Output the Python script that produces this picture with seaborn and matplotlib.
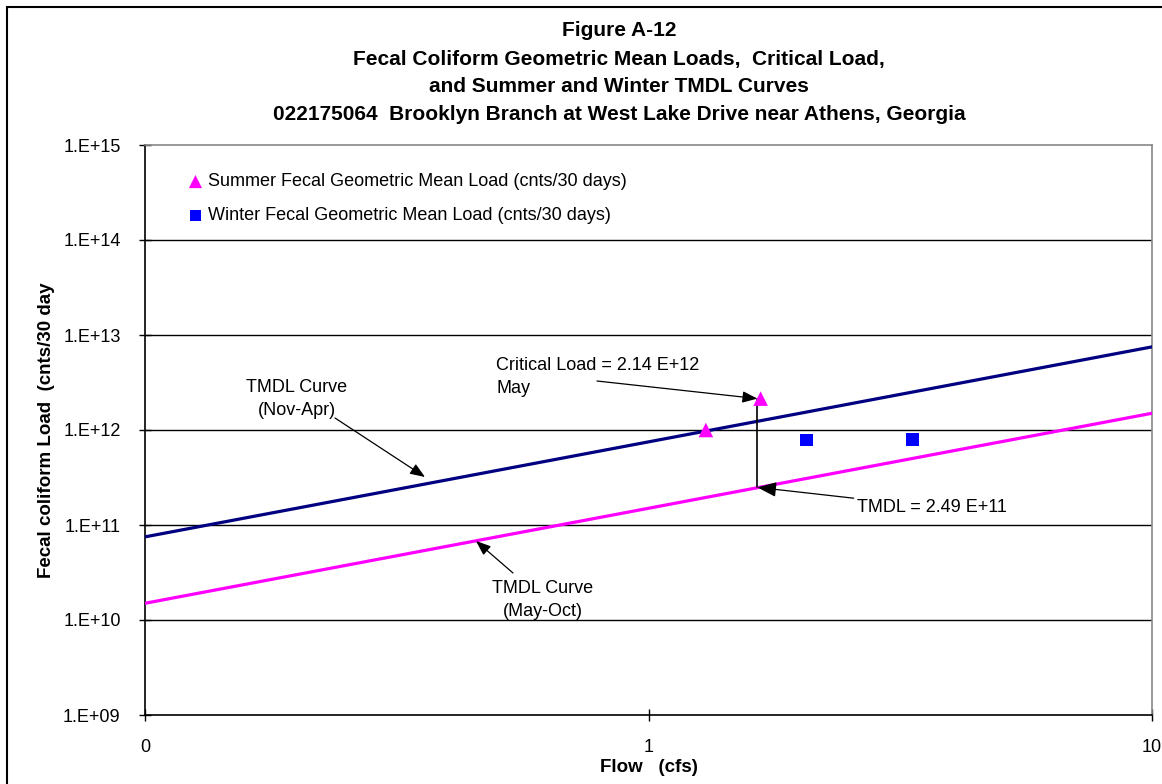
import matplotlib
matplotlib.use("Agg")
import matplotlib.pyplot as plt
import seaborn as sns
import pandas as pd
from matplotlib.patches import Rectangle
from matplotlib.ticker import FixedLocator, FixedFormatter, NullLocator

# ---- data ----
curve_flow = [0.1, 10]
summer_tmdl_curve = [1.5e10, 1.5e12]
winter_tmdl_curve = [7.5e10, 7.5e12]

summer_flow = [1.30, 1.67]
summer_load = [1.0e12, 2.14e12]
winter_flow = [2.06, 3.35]
winter_load = [7.85e11, 8.0e11]

critical_flow = 1.645
critical_load = 2.14e12
tmdl_value = 2.49e11

x_ticks = [0.1, 1, 10]
x_tick_labels = ["0", "1", "10"]
y_ticks = [1e9, 1e10, 1e11, 1e12, 1e13, 1e14, 1e15]
y_tick_labels = ["1.E+09", "1.E+10", "1.E+11", "1.E+12", "1.E+13", "1.E+14", "1.E+15"]

title_lines = ["Figure A-12",
               "Fecal Coliform Geometric Mean Loads,  Critical Load,",
               "and Summer and Winter TMDL Curves",
               "022175064  Brooklyn Branch at West Lake Drive near Athens, Georgia"]

sns.set_style("white")
plt.rcParams["font.family"] = ["Liberation Sans", "DejaVu Sans"]
plt.rcParams["text.color"] = "black"
plt.rcParams["axes.labelcolor"] = "black"
plt.rcParams["xtick.color"] = "black"
plt.rcParams["ytick.color"] = "black"

W, H = 1162, 784
fig = plt.figure(figsize=(W / 100, H / 100), dpi=100)
L, R, T, B = 145, 1152, 145, 715
ax = fig.add_axes([L / W, 1 - B / H, (R - L) / W, (B - T) / H])

ax.set_xscale("log")
ax.set_yscale("log")
ax.set_xlim(0.1, 10)
ax.set_ylim(1e9, 1e15)

# gridlines
for yv in y_ticks[1:-1]:
    ax.axhline(yv, color="black", lw=1.0, zorder=1)

curves = pd.DataFrame({"flow": curve_flow * 2,
                       "load": summer_tmdl_curve + winter_tmdl_curve,
                       "season": ["summer"] * 2 + ["winter"] * 2})
sns.lineplot(data=curves, x="flow", y="load", hue="season",
             palette={"summer": "#FF00FF", "winter": "#000080"},
             lw=2.3, ax=ax, legend=False, zorder=3)

# vertical critical line
ax.plot([critical_flow, critical_flow], [tmdl_value, critical_load], color="black", lw=1.2, zorder=4)

sns.scatterplot(x=summer_flow, y=summer_load, marker="^", color="#FF00FF", s=110,
                edgecolor="none", ax=ax, zorder=5,
                label="Summer Fecal Geometric Mean Load (cnts/30 days)")
sns.scatterplot(x=winter_flow, y=winter_load, marker="s", color="#0000FF", s=85,
                edgecolor="none", ax=ax, zorder=5,
                label="Winter Fecal Geometric Mean Load (cnts/30 days)")

leg = ax.legend(loc="upper left", bbox_to_anchor=(0.025, 0.963), frameon=False,
                fontsize=13, handletextpad=-0.3, labelspacing=0.95, markerscale=0.9,
                borderaxespad=0)

# spines
for s in ["top", "right"]:
    ax.spines[s].set_color("#888888")
    ax.spines[s].set_linewidth(1.2)
for s in ["left", "bottom"]:
    ax.spines[s].set_color("black")
    ax.spines[s].set_linewidth(1.2)

ax.xaxis.set_major_locator(FixedLocator(x_ticks))
ax.xaxis.set_major_formatter(FixedFormatter(x_tick_labels))
ax.xaxis.set_minor_locator(NullLocator())
ax.yaxis.set_major_locator(FixedLocator(y_ticks))
ax.yaxis.set_major_formatter(FixedFormatter(y_tick_labels))
ax.yaxis.set_minor_locator(NullLocator())
ax.tick_params(axis="both", which="major", direction="inout", length=9, width=1,
               color="black", labelsize=13, bottom=True, left=True)
ax.tick_params(axis="x", pad=13)
ax.tick_params(axis="y", pad=13)

ax.set_xlabel("Flow   (cfs)", fontsize=13.5, fontweight="bold", labelpad=2)
ax.set_ylabel("Fecal coliform Load  (cnts/30 day", fontsize=13.5, fontweight="bold", labelpad=6)

# title
for i, line in enumerate(title_lines):
    fig.text(619 / W, 1 - (31 + i * 28) / H, line, ha="center", va="center",
             fontsize=15, fontweight="bold")

def ax_frac(px, py):
    return ((px - L) / (R - L), (B - py) / (B - T))

arrow = dict(arrowstyle="-|>,head_length=0.9,head_width=0.35", color="black", lw=0.9,
             shrinkA=0, shrinkB=0)

ax.annotate("", xy=(critical_flow, critical_load), xycoords="data",
            xytext=ax_frac(597, 381), textcoords="axes fraction", arrowprops=arrow)
ax.text(*ax_frac(496, 377), "Critical Load = 2.14 E+12\nMay", transform=ax.transAxes,
        ha="left", va="center", fontsize=13, linespacing=1.45)

ax.annotate("TMDL = 2.49 E+11", xy=(critical_flow, tmdl_value), xycoords="data",
            xytext=ax_frac(857, 507), textcoords="axes fraction",
            ha="left", va="center", fontsize=13, arrowprops=arrow)

ax.annotate("", xy=ax_frac(425, 477), xycoords="axes fraction",
            xytext=ax_frac(335, 418), textcoords="axes fraction", arrowprops=arrow)
ax.text(*ax_frac(297, 399), "TMDL Curve\n(Nov-Apr)", transform=ax.transAxes,
        ha="center", va="center", fontsize=13, linespacing=1.45)

ax.annotate("", xy=ax_frac(476, 541), xycoords="axes fraction",
            xytext=ax_frac(513, 573), textcoords="axes fraction", arrowprops=arrow)
ax.text(*ax_frac(543, 600), "TMDL Curve\n(May-Oct)", transform=ax.transAxes,
        ha="center", va="center", fontsize=13, linespacing=1.45)

# outer chart border
fig.patches.append(Rectangle((7 / W, -0.05), 1.1, 1 - 7 / H + 0.05, transform=fig.transFigure,
                             fill=False, edgecolor="black", lw=1.5))

fig.savefig("out.png", dpi=100)
